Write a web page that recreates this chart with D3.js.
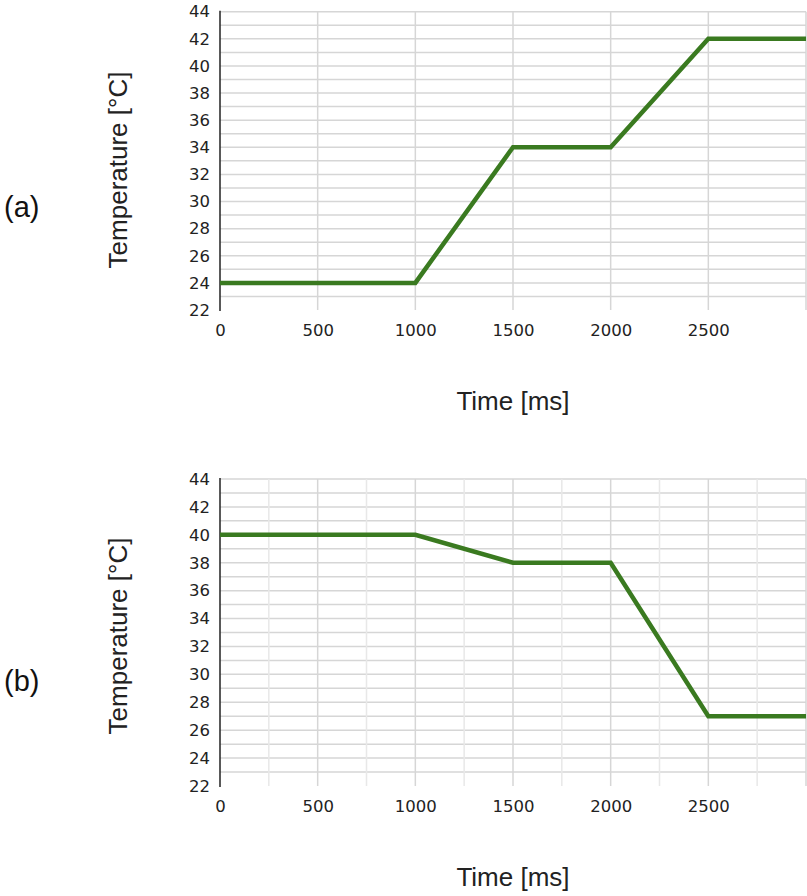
<!DOCTYPE html>
<html>
<head>
<meta charset="utf-8">
<script src="https://cdn.jsdelivr.net/npm/d3@7"></script>
<style>
  html, body { margin: 0; padding: 0; background: #fff; }
  svg { display: block; }
</style>
</head>
<body>
<svg id="chart" width="807" height="896"></svg>
<script>
// Time samples (ms) shared by both temperature profiles
const timesMs = [0, 1000, 1500, 2000, 2500, 3000];
// Profile (a): heating ramp
const tempA = [24, 24, 34, 34, 42, 42];
// Profile (b): cooling ramp
const tempB = [40, 40, 38, 38, 27, 27];
const panelLabels = ["(a)", "(b)"];
const xTicks = [0, 500, 1000, 1500, 2000, 2500];
const yTicks = [22, 24, 26, 28, 30, 32, 34, 36, 38, 40, 42, 44];
const yTitle = "Temperature [°C]";
const xTitle = "Time [ms]";

const svg = d3.select("#chart");

const panels = [
  { label: panelLabels[0], values: tempA, top: 11.7, bottom: 310, minorX: false,
    yTitleY: 170, xTitleY: 410, labelY: 217 },
  { label: panelLabels[1], values: tempB, top: 479, bottom: 786, minorX: true,
    yTitleY: 636, xTitleY: 886, labelY: 691 }
];

const left = 220, right = 806;
const gridColor = "#d6d6d6";
const lineColor = "#3a7a20";
const tickFont = "'DejaVu Sans', Verdana, sans-serif";
const titleFont = "'Liberation Sans', Arial, sans-serif";

panels.forEach(p => {
  const g = svg.append("g");
  const x = d3.scaleLinear().domain([0, 3000]).range([left, right]);
  const y = d3.scaleLinear().domain([22, 44]).range([p.bottom, p.top]);

  // horizontal grid: one line per degree
  g.append("g").selectAll("line")
    .data(d3.range(23, 45))
    .join("line")
    .attr("x1", left).attr("x2", right)
    .attr("y1", d => y(d)).attr("y2", d => y(d))
    .attr("stroke", gridColor).attr("stroke-width", 1.5);

  // vertical grid
  const vLines = p.minorX ? d3.range(250, 3001, 250) : d3.range(500, 3001, 500);
  g.append("g").selectAll("line")
    .data(vLines)
    .join("line")
    .attr("x1", d => x(d)).attr("x2", d => x(d))
    .attr("y1", p.top).attr("y2", p.bottom)
    .attr("stroke", d => (d % 500 === 0 || d === 3000 ? gridColor : "#e8e8e8"))
    .attr("stroke-width", 1.5);

  // left axis line
  g.append("line")
    .attr("x1", left).attr("x2", left)
    .attr("y1", p.top - 1).attr("y2", p.bottom + 1)
    .attr("stroke", "#222").attr("stroke-width", 1.5);

  // y axis labels
  const yAxis = d3.axisLeft(y).tickValues(yTicks).tickSize(0).tickPadding(10)
    .tickFormat(d3.format("d"));
  const ya = g.append("g").attr("transform", `translate(${left},0)`).call(yAxis);
  ya.select(".domain").remove();
  ya.selectAll("text")
    .attr("font-family", tickFont)
    .attr("font-size", 16.5).attr("fill", "#222");

  // x axis labels
  const xAxis = d3.axisBottom(x).tickValues(xTicks).tickSize(0).tickPadding(14)
    .tickFormat(d3.format("d"));
  const xa = g.append("g").attr("transform", `translate(0,${p.bottom})`).call(xAxis);
  xa.select(".domain").remove();
  xa.selectAll("text")
    .attr("font-family", tickFont)
    .attr("font-size", 16.5).attr("fill", "#222");

  // temperature profile
  const line = d3.line().x((d, i) => x(timesMs[i])).y(d => y(d));
  g.append("path")
    .datum(p.values)
    .attr("d", line)
    .attr("fill", "none")
    .attr("stroke", lineColor)
    .attr("stroke-width", 4.5)
    .attr("stroke-linejoin", "miter");

  // titles
  g.append("text")
    .attr("transform", `translate(127,${p.yTitleY}) rotate(-90)`)
    .attr("text-anchor", "middle")
    .attr("font-family", titleFont)
    .attr("font-size", 26).attr("fill", "#222")
    .text(yTitle);

  g.append("text")
    .attr("x", 513).attr("y", p.xTitleY)
    .attr("text-anchor", "middle")
    .attr("font-family", titleFont)
    .attr("font-size", 26).attr("fill", "#222")
    .text(xTitle);

  g.append("text")
    .attr("x", 4).attr("y", p.labelY)
    .attr("font-family", titleFont)
    .attr("font-size", 29).attr("fill", "#111")
    .text(p.label);
});
</script>
</body>
</html>
